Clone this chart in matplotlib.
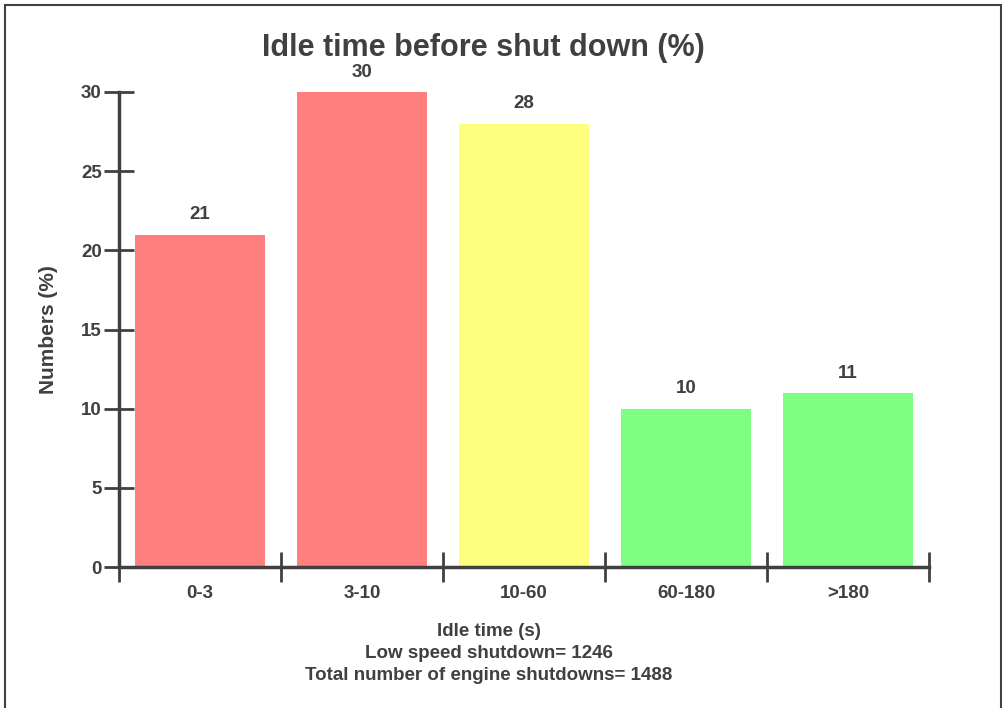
import matplotlib.pyplot as plt
from matplotlib.patches import Rectangle

categories = ['0-3', '3-10', '10-60', '60-180', '>180']
values = [21, 30, 28, 10, 11]
colors = ['#FF7F7F', '#FF7F7F', '#FFFF7F', '#7FFF7F', '#7FFF7F']

txt = '#404040'
plt.rcParams['font.family'] = ['Liberation Sans', 'DejaVu Sans']
plt.rcParams['font.weight'] = 'bold'

W, H = 1002, 708
fig = plt.figure(figsize=(W / 100, H / 100), dpi=100)
ax = fig.add_axes([119 / W, 1 - 567 / H, (929 - 119) / W, (567 - 92) / H])

x = range(len(categories))
ax.bar(x, values, width=0.8, color=colors)
for i, v in enumerate(values):
    ax.text(i, v + 1.25, str(v), ha='center', va='center', fontsize=13.5,
            fontweight='bold', color=txt, clip_on=False)

ax.set_xlim(-0.5, len(categories) - 0.5)
ax.set_ylim(0, 30)
ax.set_yticks(range(0, 31, 5))
ax.set_xticks([i - 0.5 for i in range(len(categories) + 1)])
ax.set_xticklabels([])
ax.set_xticks(list(x), minor=True)
ax.set_xticklabels(categories, minor=True)
ax.tick_params(axis='x', which='minor', length=0, pad=13, labelsize=13.5, labelcolor=txt)
ax.tick_params(axis='x', which='major', direction='inout', length=22, width=2, color=txt)
ax.tick_params(axis='y', direction='inout', length=21, width=2, color=txt, labelsize=13.5,
               labelcolor=txt, pad=2)

for s in ['top', 'right']:
    ax.spines[s].set_visible(False)
for s in ['left', 'bottom']:
    ax.spines[s].set_linewidth(2.5)
    ax.spines[s].set_color(txt)

fig.text(48 / W, 1 - 330 / H, 'Numbers (%)', rotation=90, ha='center', va='center',
         fontsize=15, fontweight='bold', color=txt)

fig.text(489 / W, 1 - 632 / H, 'Idle time (s)', ha='center', va='center',
         fontsize=13.5, fontweight='bold', color=txt)
fig.text(489 / W, 1 - 653 / H, 'Low speed shutdown= 1246', ha='center', va='center',
         fontsize=13.5, fontweight='bold', color=txt)
fig.text(489 / W, 1 - 675 / H, 'Total number of engine shutdowns= 1488', ha='center',
         va='center', fontsize=13.5, fontweight='bold', color=txt)

fig.text(483 / W, 1 - 48 / H, 'Idle time before shut down (%)', ha='center', va='center',
         fontsize=22, fontweight='bold', color=txt)

fig.patches.append(Rectangle((4.5 / W, -0.05), (1001 - 4.5) / W, 1.05 - 4.5 / H, fill=False,
                             edgecolor='#404040', linewidth=1.5, transform=fig.transFigure))

fig.savefig('out.png', dpi=100)
